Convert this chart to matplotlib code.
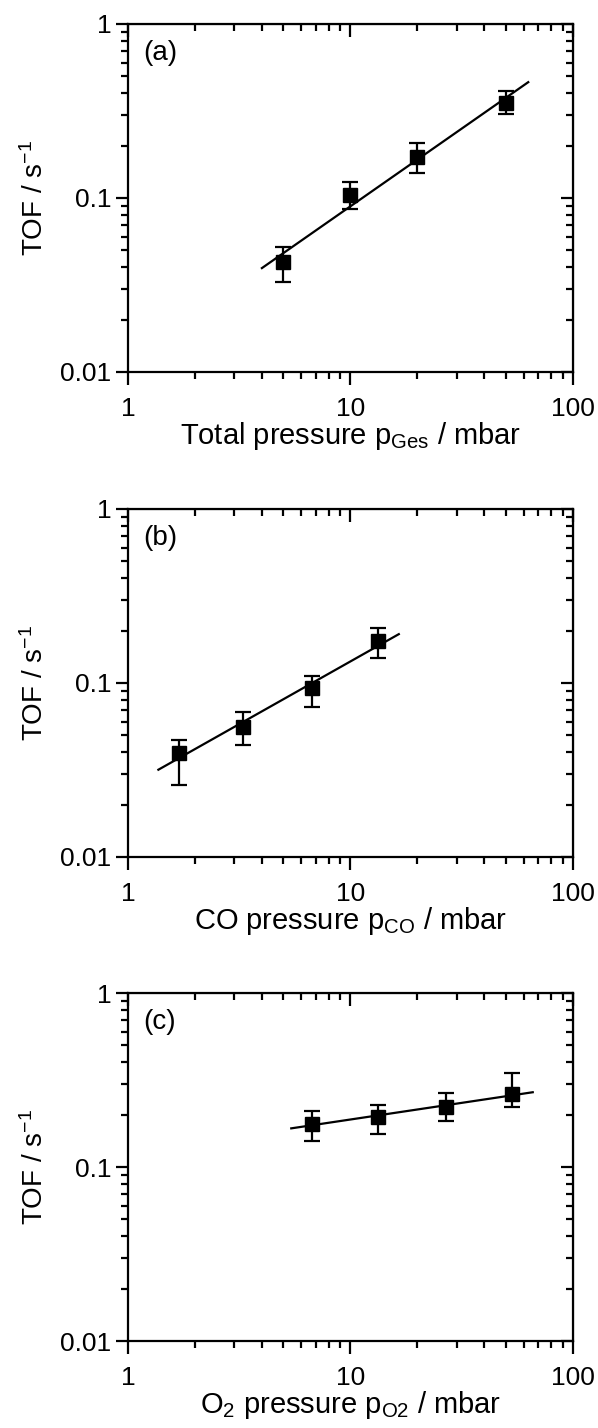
import numpy as np
import matplotlib
matplotlib.use("Agg")
import matplotlib.pyplot as plt

plt.rcParams['font.family'] = ['Liberation Sans', 'DejaVu Sans']
plt.rcParams['mathtext.fontset'] = 'custom'
plt.rcParams['mathtext.rm'] = 'Liberation Sans'
plt.rcParams['mathtext.it'] = 'Liberation Sans:italic'
plt.rcParams['font.size'] = 19

# (a) total pressure
p_ges = [5, 10, 20, 50]
tof_a = [0.0429, 0.104, 0.172, 0.353]
tof_a_lo = [0.0328, 0.086, 0.140, 0.303]
tof_a_hi = [0.052, 0.124, 0.206, 0.412]
fit_a = [4.0, 63.0]

# (b) CO pressure
p_co = [1.69, 3.3, 6.7, 13.3]
tof_b = [0.0395, 0.0557, 0.0937, 0.174]
tof_b_lo = [0.0259, 0.0438, 0.0729, 0.140]
tof_b_hi = [0.0472, 0.0682, 0.110, 0.207]
fit_b = [1.37, 16.5]

# (c) O2 pressure
p_o2 = [6.7, 13.3, 26.8, 53.4]
tof_c = [0.177, 0.195, 0.221, 0.264]
tof_c_lo = [0.142, 0.154, 0.185, 0.222]
tof_c_hi = [0.209, 0.226, 0.265, 0.346]
fit_c = [5.42, 66.0]

panels = [
    (p_ges, tof_a, tof_a_lo, tof_a_hi, fit_a, "(a)", "Total pressure p$_{\\mathrm{Ges}}$ / mbar", 0.7395),
    (p_co, tof_b, tof_b_lo, tof_b_hi, fit_b, "(b)", "CO pressure p$_{\\mathrm{CO}}$ / mbar", 0.3999),
    (p_o2, tof_c, tof_c_lo, tof_c_hi, fit_c, "(c)", "O$_2$ pressure p$_{\\mathrm{O2}}$ / mbar", 0.0609),
]

fig = plt.figure(figsize=(5.98, 14.28), dpi=100)

for x, y, ylo, yhi, frange, tag, xlabel, bottom in panels:
    ax = fig.add_axes([0.214, bottom, 0.744, 0.2437])
    x = np.array(x); y = np.array(y)
    yerr = [y - np.array(ylo), np.array(yhi) - y]
    ax.errorbar(x, y, yerr=yerr, fmt='s', color='black', ms=9.5, capsize=6,
                elinewidth=1.6, capthick=1.6)
    # linear fit in log-log space
    k, d = np.polyfit(np.log10(x), np.log10(y), 1)
    xf = np.array(frange)
    ax.plot(xf, 10 ** (k * np.log10(xf) + d), color='black', lw=1.6)

    ax.set_xscale('log')
    ax.set_yscale('log')
    ax.set_xlim(1, 100)
    ax.set_ylim(0.01, 1)
    ax.set_xticks([1, 10, 100])
    ax.set_xticklabels(['1', '10', '100'])
    ax.set_yticks([0.01, 0.1, 1])
    ax.set_yticklabels(['0.01', '0.1', '1'])
    for s in ax.spines.values():
        s.set_linewidth(1.6)
    ax.tick_params(which='major', direction='out', length=9, width=1.6)
    ax.tick_params(which='minor', direction='out', length=5, width=1.6)
    ax.tick_params(axis='x', which='major', pad=9)
    ax.tick_params(axis='y', which='major', pad=3)

    top = ax.secondary_xaxis('top')
    top.tick_params(which='major', direction='in', length=9, width=1.6, labeltop=False)
    top.tick_params(which='minor', direction='in', length=5, width=1.6)
    top.set_xticks([1, 10, 100])
    top.set_xticklabels([])
    right = ax.secondary_yaxis('right')
    right.tick_params(which='major', direction='in', length=9, width=1.6, labelright=False)
    right.tick_params(which='minor', direction='in', length=5, width=1.6)
    right.set_yticks([0.01, 0.1, 1])
    right.set_yticklabels([])

    ax.set_xlabel(xlabel, fontsize=21, labelpad=-1)
    ax.set_ylabel('TOF / s$^{-1}$', fontsize=20, labelpad=8)
    ax.text(0.035, 0.955, tag, transform=ax.transAxes, ha='left', va='top', fontsize=20)

fig.savefig("out.png", dpi=100)
